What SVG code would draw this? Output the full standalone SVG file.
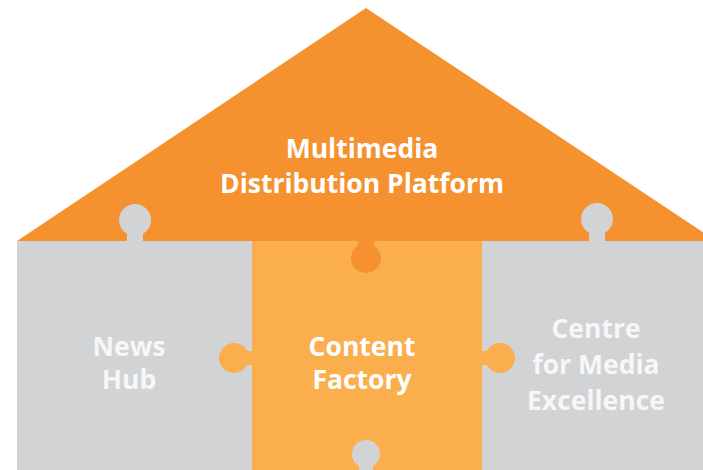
<svg xmlns="http://www.w3.org/2000/svg" width="703" height="470" viewBox="0 0 703 470">
  <style>
    .roof { fill: #F5922F; }
    .grey { fill: #D1D3D5; }
    .mid { fill: #FAAE4D; }
    .label { font-family: "Open Sans", "Liberation Sans", sans-serif; font-weight: 700; text-anchor: middle; font-size: 26.5px; }
    .on-orange { fill: #FFFFFF; }
    .on-grey { fill: #F6F7F8; }
  </style>
  <rect width="703" height="470" fill="#FFFFFF"/>

  <!-- roof piece -->
  <g id="roof">
    <polygon class="roof" points="17,241 366,8 716,241"/>
  </g>

  <!-- left wall, with its tab up into the roof -->
  <g id="news-hub">
    <rect class="grey" x="17" y="241" width="236" height="229"/>
    <circle class="grey" cx="135" cy="220" r="16"/>
    <rect class="grey" x="127" y="226" width="16" height="16"/>
    <text class="label on-grey" x="129" y="356">News</text>
    <text class="label on-grey" x="129" y="389">Hub</text>
  </g>

  <!-- right wall, with its tab up into the roof -->
  <g id="centre-for-media-excellence">
    <rect class="grey" x="481" y="241" width="222" height="229"/>
    <circle class="grey" cx="597" cy="219" r="16"/>
    <rect class="grey" x="589" y="225" width="16" height="17"/>
    <text class="label on-grey" x="596" y="338">Centre</text>
    <text class="label on-grey" x="596" y="374">for Media</text>
    <text class="label on-grey" x="596" y="410">Excellence</text>
  </g>

  <!-- middle block with side tabs and bottom slot -->
  <g id="content-factory">
    <rect class="mid" x="252" y="241" width="230" height="229"/>
    <circle class="mid" cx="234" cy="358" r="15"/>
    <rect class="mid" x="240" y="351" width="14" height="14"/>
    <circle class="mid" cx="500" cy="358" r="15"/>
    <rect class="mid" x="480" y="351" width="14" height="14"/>
    <circle class="grey" cx="366" cy="454" r="14"/>
    <rect class="grey" x="359" y="454" width="14" height="16"/>
    <text class="label on-orange" x="362" y="356">Content</text>
    <text class="label on-orange" x="362" y="389">Factory</text>
  </g>

  <!-- roof tab dropping into the middle block -->
  <g id="roof-tab">
    <circle class="roof" cx="366" cy="258" r="15"/>
    <rect class="roof" x="358" y="240" width="16" height="14"/>
  </g>

  <g id="roof-label">
    <text class="label on-orange" x="362" y="158">Multimedia</text>
    <text class="label on-orange" x="362" y="193">Distribution Platform</text>
  </g>
</svg>
